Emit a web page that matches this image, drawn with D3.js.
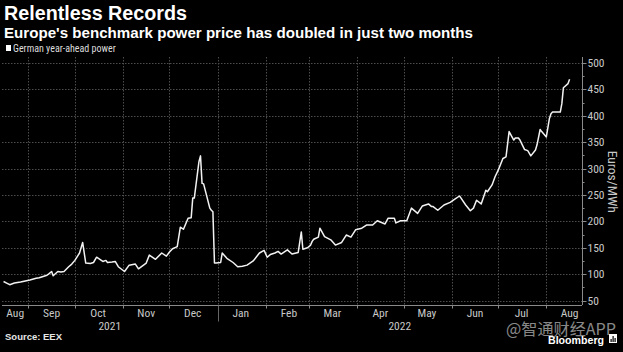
<!DOCTYPE html>
<html lang="en">
<head>
  <meta charset="UTF-8">
  <title>Relentless Records</title>
  <script src="https://d3js.org/d3.v7.min.js"></script>
  <style>
    html, body { margin: 0; padding: 0; background: #000; }
    svg { display: block; }
  </style>
</head>
<body>
  <div id="chart"></div>
  <script>
    // German year-ahead power, EUR/MWh
    const dates = [
      "2021-08-16","2021-08-18","2021-08-20","2021-08-23","2021-08-25","2021-08-27","2021-08-30",
      "2021-09-02","2021-09-06","2021-09-08","2021-09-10","2021-09-13","2021-09-14","2021-09-16",
      "2021-09-17","2021-09-20","2021-09-22","2021-09-24","2021-09-27","2021-09-29","2021-10-01",
      "2021-10-04","2021-10-06","2021-10-08","2021-10-11","2021-10-13","2021-10-15","2021-10-19",
      "2021-10-21","2021-10-22","2021-10-25","2021-10-27","2021-10-29","2021-11-02","2021-11-05",
      "2021-11-09","2021-11-11","2021-11-16","2021-11-18","2021-11-22","2021-11-26","2021-11-29",
      "2021-12-01","2021-12-03","2021-12-06","2021-12-08","2021-12-10","2021-12-13","2021-12-15",
      "2021-12-16","2021-12-17","2021-12-20","2021-12-21","2021-12-22","2021-12-23","2021-12-27",
      "2021-12-28","2021-12-29","2021-12-30","2021-12-31","2022-01-03","2022-01-04","2022-01-07",
      "2022-01-11","2022-01-14","2022-01-17","2022-01-20","2022-01-24","2022-01-28","2022-01-31",
      "2022-02-02","2022-02-04","2022-02-07","2022-02-09","2022-02-11","2022-02-15","2022-02-18",
      "2022-02-22","2022-02-24","2022-02-25","2022-02-28","2022-03-02","2022-03-03","2022-03-04",
      "2022-03-07","2022-03-08","2022-03-11","2022-03-15","2022-03-18","2022-03-22","2022-03-25",
      "2022-03-28","2022-03-31","2022-04-04","2022-04-07","2022-04-11","2022-04-14","2022-04-19",
      "2022-04-21","2022-04-25","2022-04-26","2022-04-29","2022-05-03","2022-05-06","2022-05-10",
      "2022-05-13","2022-05-17","2022-05-19","2022-05-20","2022-05-23","2022-05-27","2022-05-31",
      "2022-06-03","2022-06-06","2022-06-07","2022-06-10","2022-06-13","2022-06-15","2022-06-17",
      "2022-06-20","2022-06-23","2022-06-24","2022-06-27","2022-06-29","2022-07-01","2022-07-04",
      "2022-07-06","2022-07-08","2022-07-11","2022-07-12","2022-07-14","2022-07-15","2022-07-18",
      "2022-07-20","2022-07-22","2022-07-25","2022-07-26","2022-07-28","2022-07-29","2022-08-01",
      "2022-08-03","2022-08-04","2022-08-05","2022-08-08","2022-08-10","2022-08-11","2022-08-12",
      "2022-08-15","2022-08-16"
    ];
    const prices = [
      86, 83, 80, 83, 84, 85, 87,
      89, 92, 93, 95, 98, 100, 105,
      97, 105, 104, 105, 114, 119, 126,
      140, 160, 121, 120, 122, 132, 124,
      126, 122, 123, 124, 114, 105, 117,
      119, 110, 121, 136, 128, 140, 134,
      142, 148, 152, 189, 185, 206, 207,
      244, 244, 313, 324, 272, 271, 225,
      221, 218, 121, 121, 122, 140, 130,
      122, 114, 115, 117, 125, 140, 145,
      132, 137, 140, 143, 138, 146, 138,
      141, 180, 147, 150, 155, 162, 166,
      170, 187, 171, 165, 155, 160, 174,
      170, 184, 187, 193, 193, 201, 195,
      206, 206, 197, 201, 201, 225, 215,
      229, 233, 228, 228, 221, 231, 236,
      242, 248, 244, 231, 220, 225, 240,
      233, 259, 256, 269, 285, 297, 319,
      322, 370, 354, 358, 358, 354, 336,
      334, 324, 335, 345, 374, 370, 360,
      395, 404, 407, 407, 407, 423, 453,
      461, 469
    ];
    const yTicks = [50, 100, 150, 200, 250, 300, 350, 400, 450, 500];
    const years = ["2021", "2022"];

    const parse = d3.timeParse("%Y-%m-%d");
    const data = dates.map((d, i) => ({ date: parse(d), value: prices[i] }));

    const width = 623, height = 352;
    const plotLeft = 2, plotRight = 582, plotTop = 57, plotBottom = 305;

    const svg = d3.select("#chart").append("svg")
      .attr("width", width)
      .attr("height", height)
      .style("background", "#000");

    const xScale = d3.scaleTime()
      .domain([new Date(2021, 7, 15), new Date(2022, 7, 24)])
      .range([plotLeft, plotRight]);

    const yScale = d3.scaleLinear()
      .domain([50, 500])
      .range([300.5, 63]);

    const narrow = "'Liberation Sans Narrow', 'Roboto Condensed', 'Liberation Sans', sans-serif";

    // titles
    svg.append("text")
      .attr("x", 4).attr("y", 20)
      .attr("fill", "#fff")
      .attr("font-family", "'Liberation Sans', Arial, sans-serif")
      .attr("font-weight", "bold")
      .attr("font-size", 20)
      .attr("textLength", 183).attr("lengthAdjust", "spacingAndGlyphs")
      .text("Relentless Records");

    svg.append("text")
      .attr("x", 4).attr("y", 38)
      .attr("fill", "#fff")
      .attr("font-family", "'Liberation Sans', Arial, sans-serif")
      .attr("font-weight", "bold")
      .attr("font-size", 15)
      .attr("textLength", 469).attr("lengthAdjust", "spacingAndGlyphs")
      .text("Europe's benchmark power price has doubled in just two months");

    // legend
    svg.append("rect")
      .attr("x", 6).attr("y", 45).attr("width", 5).attr("height", 6)
      .attr("fill", "#fff");
    svg.append("text")
      .attr("x", 13).attr("y", 51.5)
      .attr("fill", "#ddd")
      .attr("font-family", narrow)
      .attr("font-size", 10)
      .text("German year-ahead power");

    // grid
    const months = d3.timeMonth.range(new Date(2021, 8, 1), new Date(2022, 7, 2));
    const grid = svg.append("g")
      .attr("stroke", "#4d4d4d")
      .attr("stroke-width", 1)
      .attr("stroke-dasharray", "1.5,1.5");

    grid.selectAll(".hg").data(yTicks).enter().append("line")
      .attr("x1", plotLeft).attr("x2", plotRight)
      .attr("y1", d => Math.round(yScale(d)) + 0.5)
      .attr("y2", d => Math.round(yScale(d)) + 0.5);

    grid.selectAll(".vg").data(months).enter().append("line")
      .attr("x1", d => Math.round(xScale(d)) + 0.5)
      .attr("x2", d => Math.round(xScale(d)) + 0.5)
      .attr("y1", plotTop).attr("y2", plotBottom);

    // x axis
    const xAxis = svg.append("g").attr("transform", `translate(0, ${plotBottom + 0.5})`);
    xAxis.append("line")
      .attr("x1", plotLeft).attr("x2", plotRight)
      .attr("stroke", "#8a8a8a");
    xAxis.selectAll(".tick").data(months).enter().append("line")
      .attr("x1", d => Math.round(xScale(d)) + 0.5)
      .attr("x2", d => Math.round(xScale(d)) + 0.5)
      .attr("y1", 0).attr("y2", 3)
      .attr("stroke", "#8a8a8a");

    const labelMonths = d3.timeMonth.range(new Date(2021, 7, 1), new Date(2022, 8, 1));
    xAxis.selectAll(".mlab").data(labelMonths).enter().append("text")
      .attr("x", (d, i) => {
        if (i === 0) return (plotLeft + xScale(d3.timeMonth.offset(d, 1))) / 2;
        return xScale(new Date(d.getFullYear(), d.getMonth(), 16));
      })
      .attr("y", 11.5)
      .attr("text-anchor", "middle")
      .attr("fill", "#c8c8c8")
      .attr("font-family", narrow)
      .attr("font-size", 11.5)
      .text(d3.timeFormat("%b"));

    const jan = xScale(new Date(2022, 0, 1));
    xAxis.append("line")
      .attr("x1", Math.round(jan) + 0.5).attr("x2", Math.round(jan) + 0.5)
      .attr("y1", 0).attr("y2", 16)
      .attr("stroke", "#666");

    xAxis.selectAll(".ylab").data(years).enter().append("text")
      .attr("x", (d, i) => i === 0 ? (plotLeft + jan) / 2 : (jan + plotRight) / 2)
      .attr("y", 24.5)
      .attr("text-anchor", "middle")
      .attr("fill", "#c8c8c8")
      .attr("font-family", narrow)
      .attr("font-size", 11.5)
      .text(d => d);

    // y axis (right)
    const yAxis = svg.append("g").attr("transform", `translate(${plotRight + 0.5}, 0)`);
    yAxis.append("line")
      .attr("y1", plotTop).attr("y2", plotBottom)
      .attr("stroke", "#8a8a8a");
    yAxis.selectAll(".minor").data(d3.range(75, 500, 50)).enter().append("line")
      .attr("x1", 0).attr("x2", 2)
      .attr("y1", d => Math.round(yScale(d)) + 0.5)
      .attr("y2", d => Math.round(yScale(d)) + 0.5)
      .attr("stroke", "#8a8a8a");
    yAxis.selectAll(".major").data(yTicks).enter().append("line")
      .attr("x1", 0).attr("x2", 4)
      .attr("y1", d => Math.round(yScale(d)) + 0.5)
      .attr("y2", d => Math.round(yScale(d)) + 0.5)
      .attr("stroke", "#8a8a8a");
    yAxis.selectAll(".ylabel").data(yTicks).enter().append("text")
      .attr("x", 5)
      .attr("y", d => yScale(d) + 4)
      .attr("fill", "#c8c8c8")
      .attr("font-family", narrow)
      .attr("font-size", 11.5)
      .text(d => d);

    svg.append("text")
      .attr("transform", `translate(608, ${yScale(275)}) rotate(90)`)
      .attr("text-anchor", "middle")
      .attr("fill", "#c8c8c8")
      .attr("font-family", narrow)
      .attr("font-size", 13.5)
      .text("Euros/MWh");

    // price line
    const line = d3.line()
      .x(d => xScale(d.date))
      .y(d => yScale(d.value));

    svg.append("path")
      .datum(data)
      .attr("d", line)
      .attr("fill", "none")
      .attr("stroke", "#f2f2f2")
      .attr("stroke-width", 1.5)
      .attr("stroke-linejoin", "round");

    // footer
    svg.append("text")
      .attr("x", 5).attr("y", 340)
      .attr("fill", "#e6e6e6")
      .attr("font-family", "'Liberation Sans', Arial, sans-serif")
      .attr("font-weight", "bold")
      .attr("font-size", 9.5)
      .text("Source: EEX");

    svg.append("text")
      .attr("x", 506).attr("y", 335)
      .attr("fill", "#fff")
      .attr("fill-opacity", 0.55)
      .attr("font-family", "'Noto Sans CJK SC', sans-serif")
      .attr("font-size", 16)
      .attr("textLength", 110).attr("lengthAdjust", "spacingAndGlyphs")
      .text("@智通财经APP");

    svg.append("text")
      .attr("x", 548).attr("y", 344)
      .attr("fill", "#fff")
      .attr("font-family", "'Liberation Sans', Arial, sans-serif")
      .attr("font-weight", "bold")
      .attr("font-size", 11.5)
      .attr("textLength", 56).attr("lengthAdjust", "spacingAndGlyphs")
      .text("Bloomberg");

    const icon = svg.append("g").attr("transform", "translate(609, 334)");
    icon.append("rect").attr("width", 8).attr("height", 9).attr("fill", "#fff");
    icon.selectAll(".bar").data([3, 6, 4]).enter().append("rect")
      .attr("x", (d, i) => 1.5 + i * 2)
      .attr("y", d => 8 - d)
      .attr("width", 1.2)
      .attr("height", d => d)
      .attr("fill", "#000");
  </script>
</body>
</html>
